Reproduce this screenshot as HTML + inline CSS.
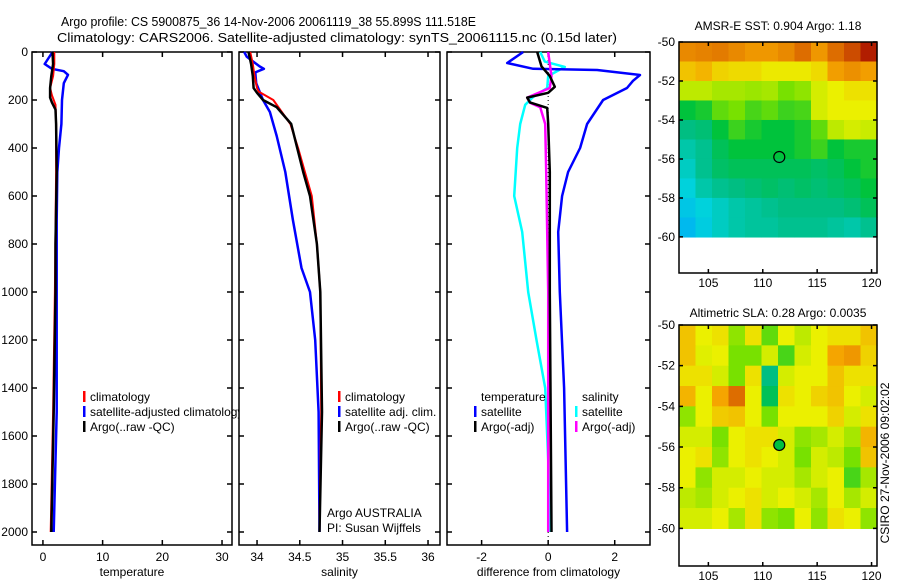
<!DOCTYPE html>
<html><head><meta charset="utf-8">
<style>
html,body{margin:0;padding:0;background:#fff;}
svg{display:block;font-family:"Liberation Sans",sans-serif;}
text{font-size:12px;fill:#000;}
</style></head>
<body>
<svg id="chart" width="900" height="580" viewBox="0 0 900 580" xmlns="http://www.w3.org/2000/svg">
<text x="61" y="26" textLength="415" lengthAdjust="spacingAndGlyphs" style="font-size:13px">Argo profile: CS 5900875_36 14-Nov-2006 20061119_38 55.899S 111.518E</text>
<text x="57" y="42" textLength="560" lengthAdjust="spacingAndGlyphs" style="font-size:13px">Climatology: CARS2006. Satellite-adjusted climatology: synTS_20061115.nc (0.15d later)</text>
<g id="g"></g>
</svg>
<script>
// ---- data ----
const tempClimDepth=[0,50,100,150,180,220,300,500,1000,1500,2000];
const tempClimVal=[1.9,1.9,1.7,1.2,1.5,2.1,2.2,2.2,2.0,1.7,1.3];
const tempArgoDepth=[0,50,100,150,190,210,240,300,500,800,1000,1500,2000];
const tempArgoVal=[1.6,1.7,1.4,1.2,1.2,1.5,2.1,2.2,2.3,2.1,2.1,1.8,1.4];
const tempSatDepth=[0,50,70,80,95,130,200,300,400,500,700,1000,1500,2000];
const tempSatVal=[1.6,0.3,1.5,3.5,4.2,3.5,3.2,3.1,2.7,2.4,2.3,2.3,2.3,1.8];

const salClimDepth=[0,50,100,150,165,200,250,300,400,500,600,800,1000,1500,2000];
const salClimVal=[33.92,33.95,33.97,34.0,34.02,34.19,34.29,34.39,34.48,34.56,34.64,34.70,34.74,34.75,34.73];
const salArgoDepth=[0,50,100,150,170,200,230,300,400,500,600,800,1000,1500,2000];
const salArgoVal=[33.9,33.93,33.95,33.96,34.0,34.07,34.23,34.4,34.47,34.54,34.62,34.70,34.74,34.76,34.73];
const salSatDepth=[0,20,60,70,85,130,200,250,350,500,700,900,1000,1200,1500,2000];
const salSatVal=[33.85,33.88,34.03,34.08,33.98,33.99,34.07,34.15,34.23,34.33,34.42,34.52,34.62,34.68,34.72,34.73];

const dTempSatDepth=[0,46,70,75,96,120,150,200,300,400,500,600,750,1000,1400,2000];
const dTempSatVal=[-0.75,-1.23,-0.45,1.47,2.76,2.55,2.37,1.65,1.17,0.96,0.6,0.42,0.3,0.35,0.48,0.57];
const dTempArgoDepth=[0,60,100,145,170,190,210,233,300,500,1000,2000];
const dTempArgoVal=[-0.33,-0.2,0.05,0.2,0,-0.63,-0.55,-0.03,0.0,0.05,0.05,0.1];
const dSalSatDepth=[0,40,62,100,150,187,220,300,400,600,750,1000,1200,1400,1700,2000];
const dSalSatVal=[-0.24,-0.1,0.5,0,-0.03,-0.45,-0.69,-0.84,-0.93,-1.02,-0.78,-0.6,-0.35,-0.09,0,0.05];
const dSalArgoDepth=[0,50,100,150,190,212,230,300,500,1000,2000];
const dSalArgoVal=[0,0.05,0.1,0.05,-0.63,-0.54,-0.24,-0.09,-0.06,0,0];

const depthTicks=[0,200,400,600,800,1000,1200,1400,1600,1800,2000];
const tempTicks=[0,10,20,30];
const salTicks=[34,34.5,35,35.5,36];
const salTickLabels=["34","34.5","35","35.5","36"];
const diffTicks=[-2,0,2];
const lonTicks=[105,110,115,120];
const latTicks=[-50,-52,-54,-56,-58,-60];

const sstGrid=[
[0.84,0.85,0.86,0.84,0.82,0.82,0.84,0.88,0.82,0.88,0.92,0.97],
[0.76,0.78,0.74,0.73,0.73,0.71,0.71,0.71,0.73,0.81,0.83,0.81],
[0.66,0.66,0.64,0.64,0.63,0.64,0.6,0.62,0.68,0.7,0.72,0.72],
[0.5,0.52,0.58,0.6,0.56,0.58,0.55,0.56,0.68,0.7,0.7,0.7],
[0.45,0.46,0.5,0.55,0.52,0.5,0.5,0.52,0.58,0.66,0.68,0.67],
[0.42,0.44,0.48,0.5,0.5,0.5,0.5,0.52,0.55,0.5,0.52,0.52],
[0.4,0.44,0.47,0.48,0.48,0.48,0.48,0.48,0.47,0.48,0.5,0.52],
[0.38,0.42,0.44,0.45,0.46,0.47,0.46,0.47,0.46,0.47,0.48,0.5],
[0.36,0.38,0.4,0.42,0.43,0.44,0.45,0.45,0.45,0.45,0.46,0.48],
[0.34,0.37,0.4,0.42,0.43,0.43,0.44,0.44,0.44,0.43,0.42,0.44]];
const slaGrid=[
[0.76,0.7,0.72,0.62,0.72,0.58,0.7,0.66,0.7,0.72,0.72,0.76],
[0.76,0.69,0.7,0.6,0.6,0.68,0.56,0.68,0.7,0.8,0.82,0.74],
[0.72,0.72,0.68,0.6,0.72,0.45,0.68,0.7,0.7,0.76,0.72,0.72],
[0.78,0.7,0.8,0.88,0.7,0.48,0.72,0.7,0.74,0.76,0.7,0.68],
[0.62,0.7,0.75,0.76,0.7,0.6,0.7,0.7,0.7,0.74,0.68,0.72],
[0.68,0.68,0.6,0.7,0.72,0.72,0.68,0.62,0.64,0.68,0.64,0.78],
[0.7,0.72,0.62,0.7,0.72,0.7,0.68,0.6,0.68,0.66,0.6,0.76],
[0.7,0.62,0.68,0.68,0.7,0.68,0.68,0.64,0.68,0.7,0.56,0.64],
[0.66,0.64,0.68,0.7,0.72,0.68,0.7,0.68,0.64,0.7,0.64,0.68],
[0.68,0.68,0.7,0.64,0.72,0.62,0.6,0.7,0.62,0.72,0.7,0.62]];

// ---- helpers ----
const NS="http://www.w3.org/2000/svg";
const G=document.getElementById('g');
function mk(tag,attrs,parent){const e=document.createElementNS(NS,tag);for(const k in attrs)e.setAttribute(k,attrs[k]);(parent||G).appendChild(e);return e;}
const PT=52,PB=545;
const yD=d=>52+d*0.24;
const panels=[
 {name:'temperature',x0:32,x1:232,lo:-1.83,hi:31.67,label:'temperature'},
 {name:'salinity',x0:239,x1:440,lo:33.789,hi:36.14,label:'salinity'},
 {name:'difference',x0:447,x1:650,lo:-3.04,hi:3.06,label:'difference from climatology'}];
panels.forEach(p=>{p.sx=v=>p.x0+(v-p.lo)/(p.hi-p.lo)*(p.x1-p.x0);});

function frame(p,ticks,labels){
  const r=mk('rect',{x:p.x0,y:PT,width:p.x1-p.x0,height:PB-PT,fill:'#fff',stroke:'#000','stroke-width':1.5});
  
  
  depthTicks.forEach(d=>{
    const y=yD(d);
    const t=mk('path',{d:`M${p.x0},${y}h5M${p.x1},${y}h-5`,stroke:'#000','stroke-width':1.5});
    
    
  });
  ticks.forEach((v,i)=>{
    const x=p.sx(v);
    const t=mk('path',{d:`M${x},${PB}v-5M${x},${PT}v5`,stroke:'#000','stroke-width':1.5});
    
    
    const l=mk('text',{x:x,y:561,'text-anchor':'middle'});l.textContent=labels[i];
    
    
  });
  const xl=mk('text',{x:(p.x0+p.x1)/2,y:576,'text-anchor':'middle'});xl.textContent=p.label;
  
  
}
function series(p,depths,vals,color,w,name){
  const d=depths.map((dd,i)=>(i?'L':'M')+p.sx(vals[i]).toFixed(1)+','+yD(dd).toFixed(1)).join('');
  const s=mk('path',{d:d,fill:'none',stroke:color,'stroke-width':w,'stroke-linejoin':'round'});
  
  
}
function legend(x,y,color,txt,name){
  const b=mk('rect',{x:x,y:y-10,width:2.5,height:11,fill:color});
  
  
  const t=mk('text',{x:x+7,y:y});t.textContent=txt;
  
  
}

depthTicks.forEach(d=>{
  const t=mk('text',{x:28,y:yD(d)+4,'text-anchor':'end'});t.textContent=d;
  
  
});

const P1=panels[0];
frame(P1,tempTicks,tempTicks.map(String));
series(P1,tempSatDepth,tempSatVal,'#0000ff',2.5,'temp-satellite-line');
series(P1,tempClimDepth,tempClimVal,'#ff0000',2,'temp-climatology-line');
series(P1,tempArgoDepth,tempArgoVal,'#000',2.5,'temp-argo-line');
legend(83,401,'#f00','climatology','temp-legend-climatology');
legend(83,416,'#00f','satellite-adjusted climatology','temp-legend-satellite');
legend(83,431,'#000','Argo(..raw -QC)','temp-legend-argo');

const P2=panels[1];
frame(P2,salTicks,salTickLabels);
series(P2,salSatDepth,salSatVal,'#0000ff',2.5,'sal-satellite-line');
series(P2,salClimDepth,salClimVal,'#ff0000',2,'sal-climatology-line');
series(P2,salArgoDepth,salArgoVal,'#000',2.5,'sal-argo-line');
legend(338,401,'#f00','climatology','sal-legend-climatology');
legend(338,416,'#00f','satellite adj. clim.','sal-legend-satellite');
legend(338,431,'#000','Argo(..raw -QC)','sal-legend-argo');
[['Argo AUSTRALIA',517,'credit-institution'],['PI: Susan Wijffels',532,'credit-pi']].forEach(a=>{
  const t=mk('text',{x:327,y:a[1]});t.textContent=a[0];
  
  
});

const P3=panels[2];
frame(P3,diffTicks,diffTicks.map(String));
const zl=mk('line',{x1:P3.sx(0),x2:P3.sx(0),y1:PT,y2:PB,stroke:'#000','stroke-width':1,'stroke-dasharray':'1,3'});


series(P3,dSalSatDepth,dSalSatVal,'#00ffff',2.5,'diff-sal-satellite-line');
series(P3,dTempSatDepth,dTempSatVal,'#0000ff',2.5,'diff-temp-satellite-line');
series(P3,dSalArgoDepth,dSalArgoVal,'#ff00ff',2.5,'diff-sal-argo-line');
series(P3,dTempArgoDepth,dTempArgoVal,'#000',2.5,'diff-temp-argo-line');
const th=mk('text',{x:481,y:401});th.textContent='temperature';


const sh=mk('text',{x:582,y:401});sh.textContent='salinity';


legend(474,416,'#00f','satellite','diff-legend-temp-satellite');
legend(474,431,'#000','Argo(-adj)','diff-legend-temp-argo');
legend(575,416,'#0ff','satellite','diff-legend-sal-satellite');
legend(575,431,'#f0f','Argo(-adj)','diff-legend-sal-argo');

const stops=[[0.3,[0,160,255]],[0.38,[0,210,220]],[0.45,[0,190,130]],[0.5,[0,195,60]],[0.6,[120,225,0]],[0.7,[235,240,0]],[0.8,[245,165,0]],[0.9,[215,95,0]],[1.0,[160,0,0]]];
function cmap(v){
  if(v<=stops[0][0])return `rgb(${stops[0][1]})`;
  for(let i=1;i<stops.length;i++){if(v<=stops[i][0]){const a=stops[i-1],b=stops[i],t=(v-a[0])/(b[0]-a[0]);
    return 'rgb('+a[1].map((c,j)=>Math.round(c+(b[1][j]-c)*t)).join(',')+')';}}
  return `rgb(${stops[stops.length-1][1]})`;
}
function mapPanel(name,top,bottom,title,titleY,grid,filled){
  const x0=679,x1=877,lonLo=102.3,lonHi=120.5;
  const sx=l=>x0+(l-lonLo)/(lonHi-lonLo)*(x1-x0);
  const dataBot=top+(bottom-top)*(10/11.85);
  const sy=la=>top+(-50-la)/10*(dataBot-top);
  const rows=grid.length,cols=grid[0].length;
  const cw=(x1-x0)/cols,ch=(dataBot-top)/rows;
  grid.forEach((row,r)=>row.forEach((v,c)=>{
    const e=mk('rect',{x:(x0+c*cw).toFixed(2),y:(top+r*ch).toFixed(2),width:(cw+0.6).toFixed(2),height:(ch+0.6).toFixed(2),fill:cmap(v)});
    
    
  }));
  const b=mk('rect',{x:x0,y:top,width:x1-x0,height:bottom-top,fill:'none',stroke:'#000','stroke-width':1.5});
  
  
  const t=mk('text',{x:(x0+x1)/2,y:titleY,'text-anchor':'middle'});t.textContent=title;
  
  
  latTicks.forEach(la=>{
    const y=sy(la);
    const k=mk('path',{d:`M${x0},${y}h4M${x1},${y}h-4`,stroke:'#000','stroke-width':1.5});
    
    
    const l=mk('text',{x:675,y:y+4,'text-anchor':'end'});l.textContent=la;
    
    
  });
  lonTicks.forEach(lo=>{
    const x=sx(lo);
    const k=mk('path',{d:`M${x},${top}v4M${x},${bottom}v-4`,stroke:'#000','stroke-width':1.5});
    
    
    const l=mk('text',{x:x,y:bottom+14,'text-anchor':'middle'});l.textContent=lo;
    
    
  });
  const c=mk('circle',{cx:sx(111.518),cy:sy(-55.899),r:5.5,fill:filled?'#00c040':'none',stroke:'#000','stroke-width':1.2});
  
  
}
mapPanel('sst-map',42,273,'AMSR-E SST: 0.904  Argo: 1.18',30,sstGrid,false);
mapPanel('sla-map',325,566,'Altimetric SLA: 0.28  Argo: 0.0035',317,slaGrid,true);
const rt=mk('text',{x:0,y:0,transform:'translate(889,463) rotate(-90)','text-anchor':'middle'});
rt.textContent='CSIRO 27-Nov-2006 09:02:02';


</script>
</body></html>
